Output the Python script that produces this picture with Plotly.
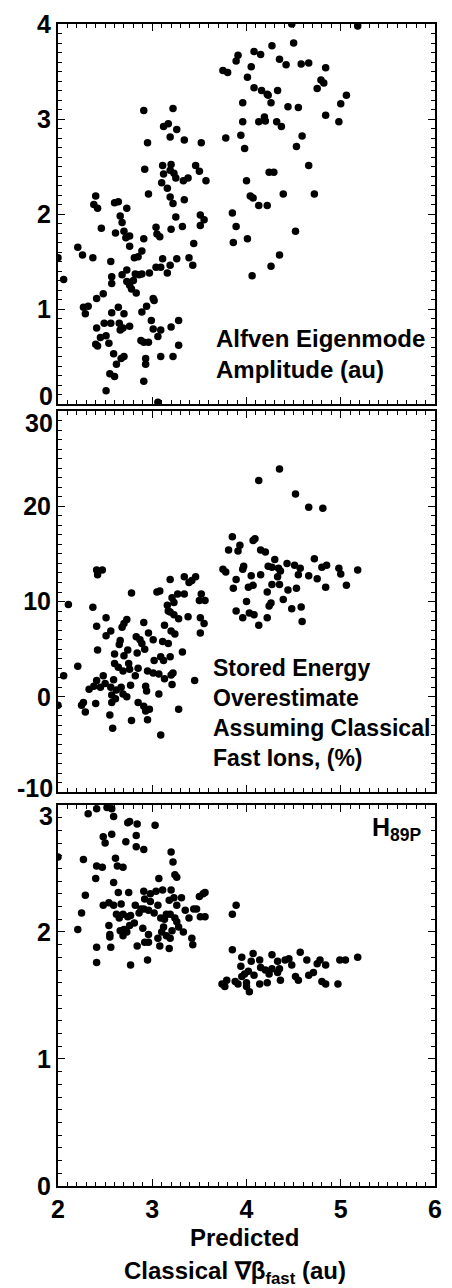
import plotly.graph_objects as go

# ---------------- data ----------------
# Panel 1: Alfven Eigenmode Amplitude (au)
x1 = [5.18, 4.48, 4.50, 4.27, 4.08, 4.15, 3.91, 3.89, 3.75, 3.80, 4.05, 4.35, 4.42, 4.58, 4.66,
      4.84, 4.01, 4.79, 4.82, 4.75, 4.08, 4.16, 4.22, 4.23, 4.33, 5.06, 5.00, 3.96, 4.26, 4.44,
      4.55, 4.84, 4.98, 4.19, 4.20, 4.13, 3.96, 4.32, 4.37, 3.94, 3.78, 4.59, 3.98, 4.53, 4.66,
      4.24, 4.29, 4.00, 4.04, 4.07, 4.72, 4.39, 4.13, 4.22, 3.85, 3.89, 4.52, 3.86, 4.01, 4.35,
      4.26, 4.06,
      2.91, 3.22, 3.12, 3.17, 3.26, 3.19, 2.95, 3.34, 3.52, 2.92, 3.11, 3.20, 3.12, 3.19, 3.23,
      3.25, 3.46, 3.50, 3.57, 3.38, 3.33, 3.10, 3.16, 3.19, 3.22, 2.96, 3.34, 3.25, 3.51, 3.55,
      3.51, 3.32, 3.20, 3.04, 3.05, 3.08, 2.91, 3.44, 3.39, 3.43, 3.26, 3.11, 3.19, 3.04, 3.09,
      3.16, 2.97, 2.89, 2.85, 2.81, 2.76, 2.76, 2.72, 2.70, 2.61, 2.68, 2.66, 2.73, 2.60, 2.64,
      2.40, 2.38, 2.42, 2.46, 2.21, 2.26, 2.37, 2.00, 2.06, 2.56, 2.57, 2.57, 2.68, 2.73, 2.73,
      2.76, 2.80, 2.78, 2.83, 2.82, 2.86, 2.89, 2.48, 2.41, 2.27, 2.32, 2.29, 3.01, 3.02, 2.94,
      2.89, 2.64, 2.57, 2.70, 2.99, 3.28, 2.41, 2.49, 2.56, 2.65, 2.66, 2.69, 2.76, 3.01, 3.09,
      3.20, 2.45, 2.51, 2.40, 2.42, 2.54, 2.88, 2.91, 2.96, 3.06, 3.28, 2.59, 2.70, 2.67, 2.62,
      2.93, 2.93, 3.09, 3.22, 2.55, 2.60, 2.91, 2.51, 3.06]
y1 = [3.98, 4.00, 3.80, 3.77, 3.71, 3.68, 3.67, 3.61, 3.51, 3.49, 3.55, 3.63, 3.57, 3.58, 3.59,
      3.54, 3.44, 3.41, 3.38, 3.32, 3.33, 3.30, 3.26, 3.25, 3.30, 3.25, 3.16, 3.17, 3.17, 3.13,
      3.12, 3.04, 2.97, 3.02, 2.98, 2.97, 2.97, 2.97, 2.92, 2.83, 2.80, 2.82, 2.69, 2.71, 2.51,
      2.44, 2.44, 2.35, 2.19, 2.17, 2.21, 2.21, 2.09, 2.09, 2.01, 1.87, 1.82, 1.70, 1.74, 1.57,
      1.45, 1.35,
      3.09, 3.11, 2.92, 2.95, 2.89, 2.81, 2.75, 2.78, 2.75, 2.47, 2.51, 2.52, 2.42, 2.46, 2.43,
      2.38, 2.51, 2.45, 2.35, 2.38, 2.35, 2.33, 2.27, 2.18, 2.11, 2.21, 2.15, 1.97, 1.99, 1.94,
      1.88, 1.87, 1.84, 1.86, 1.79, 1.76, 1.74, 1.69, 1.54, 1.46, 1.53, 1.53, 1.46, 1.44, 1.44,
      1.38, 1.38, 1.61, 1.55, 1.54, 1.66, 1.77, 1.75, 1.82, 1.80, 1.91, 1.98, 2.06, 2.12, 2.13,
      2.19, 2.10, 2.06, 1.85, 1.65, 1.57, 1.54, 1.54, 1.31, 1.50, 1.34, 1.27, 1.36, 1.41, 1.29,
      1.25, 1.30, 1.21, 1.17, 1.37, 1.36, 1.37, 1.16, 1.11, 1.02, 1.03, 0.95, 1.11, 1.09, 1.03,
      0.97, 1.02, 0.96, 0.95, 0.88, 0.88, 0.80, 0.85, 0.85, 0.85, 0.78, 0.80, 0.82, 0.79, 0.78,
      0.81, 0.70, 0.72, 0.63, 0.61, 0.64, 0.67, 0.65, 0.65, 0.71, 0.62, 0.53, 0.50, 0.48, 0.42,
      0.48, 0.42, 0.50, 0.50, 0.32, 0.29, 0.24, 0.14, 0.02]

# Panel 2: Stored energy overestimate (%)
x2 = [4.35, 4.13, 4.52, 4.66, 4.81, 3.85, 3.93, 3.91, 3.81, 4.07, 4.09, 4.15, 4.20, 4.30, 4.72,
      3.97, 3.96, 3.75, 3.78, 4.23, 4.27, 4.34, 4.36, 4.43, 4.51, 4.57, 4.80, 4.85, 4.98, 5.00,
      5.18, 4.05, 4.15, 4.33, 4.55, 4.66, 4.75, 3.89, 3.86, 4.07, 4.02, 4.27, 4.35, 4.44, 4.53,
      4.84, 5.06, 4.22, 4.00, 4.26, 4.24, 4.39, 4.48, 4.58, 3.89, 4.03, 4.08, 3.96, 4.22, 4.13,
      4.59,
      2.41, 2.42, 2.47, 2.11, 2.37, 2.51, 2.41, 2.56, 2.51, 2.78, 2.68, 2.70, 2.73, 2.91, 2.66,
      2.65, 2.83, 2.87, 2.89, 2.92, 2.96, 3.01, 2.84, 2.74, 2.70, 2.60, 2.42, 2.21, 2.06, 2.00,
      2.60, 2.64, 2.69, 2.75, 2.76, 2.82, 2.85, 2.95, 3.01, 3.07, 3.02, 3.09, 3.12, 3.19, 3.32,
      3.13, 3.20, 3.22, 3.21, 3.45, 2.48, 2.41, 2.33, 2.38, 2.45, 2.50, 2.56, 2.59, 2.62, 2.67,
      2.69, 2.57, 2.61, 2.57, 2.73, 2.77, 2.93, 2.94, 3.07, 2.27, 2.25, 2.29, 2.40, 2.85, 2.91,
      2.93, 2.97, 2.95, 2.55, 2.78, 2.58, 3.09, 3.28,
      3.05, 3.08, 3.19, 3.34, 3.39, 3.42, 3.46, 3.27, 3.34, 3.21, 3.23, 3.16, 3.19, 3.23, 3.28,
      3.38, 3.17, 3.52, 3.56, 3.50, 3.51, 3.55, 3.51, 3.13, 3.20, 3.24, 3.11, 3.17]
y2 = [23.9, 22.7, 21.3, 19.9, 19.8, 16.8, 15.9, 15.3, 15.4, 16.4, 16.6, 15.4, 15.2, 14.4, 14.5,
      13.7, 13.4, 13.4, 13.1, 13.7, 13.6, 13.5, 13.2, 14.0, 13.8, 13.5, 13.6, 13.8, 13.5, 12.9,
      13.3, 12.7, 12.8, 12.6, 12.8, 12.7, 12.4, 12.3, 11.4, 11.7, 11.5, 11.8, 11.8, 11.2, 11.4,
      11.5, 11.7, 11.0, 10.0, 9.84, 9.53, 10.2, 9.25, 9.43, 9.0, 8.8, 8.6, 8.3, 8.3, 7.5,
      7.9,
      13.3, 12.8, 13.3, 9.7, 9.4, 8.3, 7.4, 6.9, 6.4, 10.9, 7.3, 7.7, 8.1, 7.8, 5.9,
      5.5, 6.3, 6.0, 5.6, 5.0, 6.7, 6.0, 4.6, 4.9, 4.3, 4.5, 4.9, 3.2, 2.2, -0.9,
      3.5, 3.1, 2.7, 3.5, 2.9, 2.2, 3.0, 2.7, 2.5, 2.4, 3.8, 4.2, 3.8, 4.2, 4.7,
      1.9, 2.3, 2.5, 1.3, 1.7, 2.2, 1.7, 0.8, 1.1, 1.0, 1.4, 1.0, 1.8, 0.7, 1.0,
      0.3, 0.2, -0.2, -0.6, 0.0, 1.2, 1.1, 0.6, 0.3, -0.6, -0.9, -1.6, -0.7, -0.6, -1.0,
      -1.5, -1.3, -2.4, -1.9, -2.5, -3.3, -4.0, -1.3,
      11.0, 11.1, 12.3, 12.6, 12.0, 12.2, 12.6, 10.8, 10.8, 10.4, 9.9, 9.6, 8.9, 8.6, 8.2,
      8.4, 9.0, 10.8, 10.1, 10.1, 8.3, 7.7, 6.7, 7.5, 6.9, 6.6, 5.8, 5.6]

# Panel 3: H89P
x3 = [3.85, 3.89, 3.85, 3.95, 4.07, 4.05, 4.14, 4.27, 4.33, 4.41, 4.45, 4.57, 4.64, 4.78, 4.84,
      4.99, 5.05, 5.18, 3.94, 3.98, 3.95, 4.02, 4.08, 4.15, 4.20, 4.24, 4.27, 4.33, 4.35, 4.48,
      4.52, 4.55, 4.66, 4.71, 4.75, 4.80, 4.84, 4.97, 4.36, 4.22, 4.14, 4.03, 4.00, 3.88, 3.91,
      3.79, 3.74, 3.77, 4.00,
      2.41, 2.32, 2.52, 2.57, 2.59, 2.74, 2.76, 2.84, 3.03, 2.48, 2.57, 2.50, 2.72, 2.83, 2.83,
      2.91, 2.00, 2.27, 2.61, 2.63, 2.69, 2.41, 2.47, 2.40, 3.20, 3.22, 3.24, 3.26, 3.07, 2.59,
      2.29, 2.64, 2.75, 2.91, 2.98, 3.04, 3.11, 3.20, 2.92, 2.98, 2.48, 2.54, 2.59, 2.67, 2.82,
      2.88, 3.06, 3.18, 3.23, 3.31, 3.26, 3.35, 3.39, 3.44, 3.50, 3.54, 3.56, 3.51, 3.56, 3.47,
      2.25, 2.21, 2.62, 2.65, 2.69, 2.74, 2.77, 2.86, 2.91, 2.96, 3.02, 3.09, 3.15, 3.19, 3.24,
      3.13, 3.26, 2.76, 2.81, 2.70, 2.66, 2.73, 2.69, 2.54, 2.55, 2.55, 2.90, 2.96, 2.92, 2.96,
      3.06, 3.10, 3.12, 3.15, 3.19, 3.21, 3.28, 3.33, 3.08, 3.18, 3.42, 3.43, 2.41, 2.56, 2.84,
      2.41, 2.77, 2.95]
y3 = [2.14, 2.21, 1.86, 1.80, 1.83, 1.77, 1.78, 1.82, 1.77, 1.78, 1.79, 1.84, 1.78, 1.78, 1.74,
      1.78, 1.78, 1.80, 1.73, 1.67, 1.65, 1.69, 1.66, 1.72, 1.70, 1.67, 1.71, 1.68, 1.71, 1.74,
      1.65, 1.62, 1.66, 1.68, 1.75, 1.61, 1.59, 1.59, 1.62, 1.60, 1.59, 1.53, 1.57, 1.61, 1.59,
      1.62, 1.59, 1.57, 1.60,
      2.97, 2.93, 2.98, 2.97, 2.91, 2.86, 2.87, 2.85, 2.84, 2.75, 2.77, 2.70, 2.71, 2.76, 2.67,
      2.65, 2.59, 2.57, 2.58, 2.52, 2.51, 2.52, 2.51, 2.42, 2.63, 2.55, 2.45, 2.43, 2.42, 2.39,
      2.29, 2.31, 2.31, 2.32, 2.30, 2.32, 2.33, 2.33, 2.26, 2.24, 2.21, 2.23, 2.21, 2.22, 2.21,
      2.18, 2.21, 2.25, 2.27, 2.27, 2.21, 2.17, 2.11, 2.18, 2.28, 2.30, 2.31, 2.12, 2.12, 2.18,
      2.15, 2.02, 2.14, 2.11, 2.14, 2.12, 2.13, 2.15, 2.18, 2.17, 2.15, 2.11, 2.14, 2.14, 2.11,
      2.10, 2.08, 2.05, 2.07, 2.02, 2.01, 2.00, 1.97, 2.05, 1.98, 1.96, 2.03, 1.98, 1.92, 1.92,
      1.95, 2.00, 2.04, 1.97, 1.95, 2.01, 2.04, 2.00, 1.89, 1.87, 1.95, 1.90, 1.88, 1.88, 1.89,
      1.76, 1.74, 1.78]

x_ticks = [2, 3, 4, 5, 6]
y1_ticks = [1, 2, 3, 4]          # "0" drawn separately (nudged up at the panel joint)
y2_ticks = [0, 10, 20]           # "30" and "-10" drawn separately (nudged)
y3_ticks = [0, 1, 2]             # "3" drawn separately (nudged down)
joint_labels = [("0", "y", 0, 8), ("30", "y2", 30, -12),
                ("-10", "y2", -10, 4), ("3", "y3", 3, -11)]

# ---------------- figure ----------------
FONT = "Liberation Sans, Arial, Helvetica, sans-serif"
TICKFONT = dict(family=FONT, size=25, color="black", weight="bold")
MARK = dict(size=7.5, color="black")

fig = go.Figure()
for xs, ys, xa, ya in [(x1, y1, "x", "y"), (x2, y2, "x2", "y2"), (x3, y3, "x3", "y3")]:
    fig.add_trace(go.Scatter(x=xs, y=ys, mode="markers", xaxis=xa, yaxis=ya,
                             marker=MARK, showlegend=False, hoverinfo="skip"))


def axis_common():
    return dict(ticks="inside", ticklen=7, tickwidth=1, tickcolor="black",
                showline=True, linewidth=2, linecolor="black", mirror="ticks",
                showgrid=False, zeroline=False, tickfont=TICKFONT)


def xaxis(anchor, labels):
    d = axis_common()
    d.update(range=[2, 6], tickvals=x_ticks, anchor=anchor, showticklabels=labels,
             minor=dict(dtick=0.1, ticks="inside", ticklen=4, tickwidth=1,
                        tickcolor="black", showgrid=False))
    return d


def yaxis(domain, rng, tickvals, minor_dtick, anchor):
    d = axis_common()
    d.update(range=rng, domain=domain, tickvals=tickvals, anchor=anchor,
             minor=dict(dtick=minor_dtick, ticks="inside", ticklen=4, tickwidth=1,
                        tickcolor="black", showgrid=False))
    return d


H = 1288
top_m, bot_m = 15, 102
plot_h = H - top_m - bot_m


def dom(top_px, bottom_px):
    return [(H - bot_m - bottom_px) / plot_h, (H - bot_m - top_px) / plot_h]


fig.update_layout(
    width=452, height=H,
    margin=dict(l=58, r=10, t=top_m, b=bot_m),
    paper_bgcolor="white", plot_bgcolor="white",
    font=dict(family=FONT, color="black"),
    xaxis=xaxis("y", False),
    xaxis2=xaxis("y2", False),
    xaxis3=xaxis("y3", True),
    yaxis=yaxis(dom(15, 398), [0, 4], y1_ticks, 0.1, "x"),
    yaxis2=yaxis(dom(405, 789), [-10, 30], y2_ticks, 1, "x2"),
    yaxis3=yaxis(dom(802, 1186), [0, 3], y3_ticks, 0.1, "x3"),
)

ann = []
TXT = dict(family=FONT, size=23, color="black", weight="bold")
for txt, yref, yv, ys in joint_labels:
    ann.append(dict(text=txt, xref="paper", x=0, xanchor="right", xshift=-4,
                    yref=yref, y=yv, yanchor="middle", yshift=ys, showarrow=False,
                    borderpad=0, font=TICKFONT))

ann.append(dict(text="Alfven Eigenmode<br>Amplitude (au)", xref="x", yref="y",
                x=3.66, y=0.85, xanchor="left", yanchor="top", align="left",
                showarrow=False, font=dict(family=FONT, size=24, color="black", weight="bold")))
ann.append(dict(text="Stored Energy<br>Overestimate<br>Assuming Classical<br>Fast Ions, (%)",
                xref="x2", yref="y2", x=3.62, y=4.6, xanchor="left", yanchor="top",
                align="left", showarrow=False, font=TXT))
ann.append(dict(text="H<sub>89P</sub>", xref="x3", yref="y3", x=5.88, y=2.95,
                xanchor="right", yanchor="top", showarrow=False,
                font=dict(family=FONT, size=25, color="black", weight="bold")))
ann.append(dict(text="Predicted", xref="paper", yref="paper", x=0.495, y=-0.031,
                xanchor="center", yanchor="top", showarrow=False,
                font=dict(family=FONT, size=24, color="black", weight="bold")))
ann.append(dict(text="Classical ∇β<sub>fast</sub> (au)", xref="paper", yref="paper",
                x=0.47, y=-0.059, xanchor="center", yanchor="top", showarrow=False,
                font=dict(family=FONT, size=24, color="black", weight="bold")))
fig.update_layout(annotations=ann)

fig.write_html("out.html")
